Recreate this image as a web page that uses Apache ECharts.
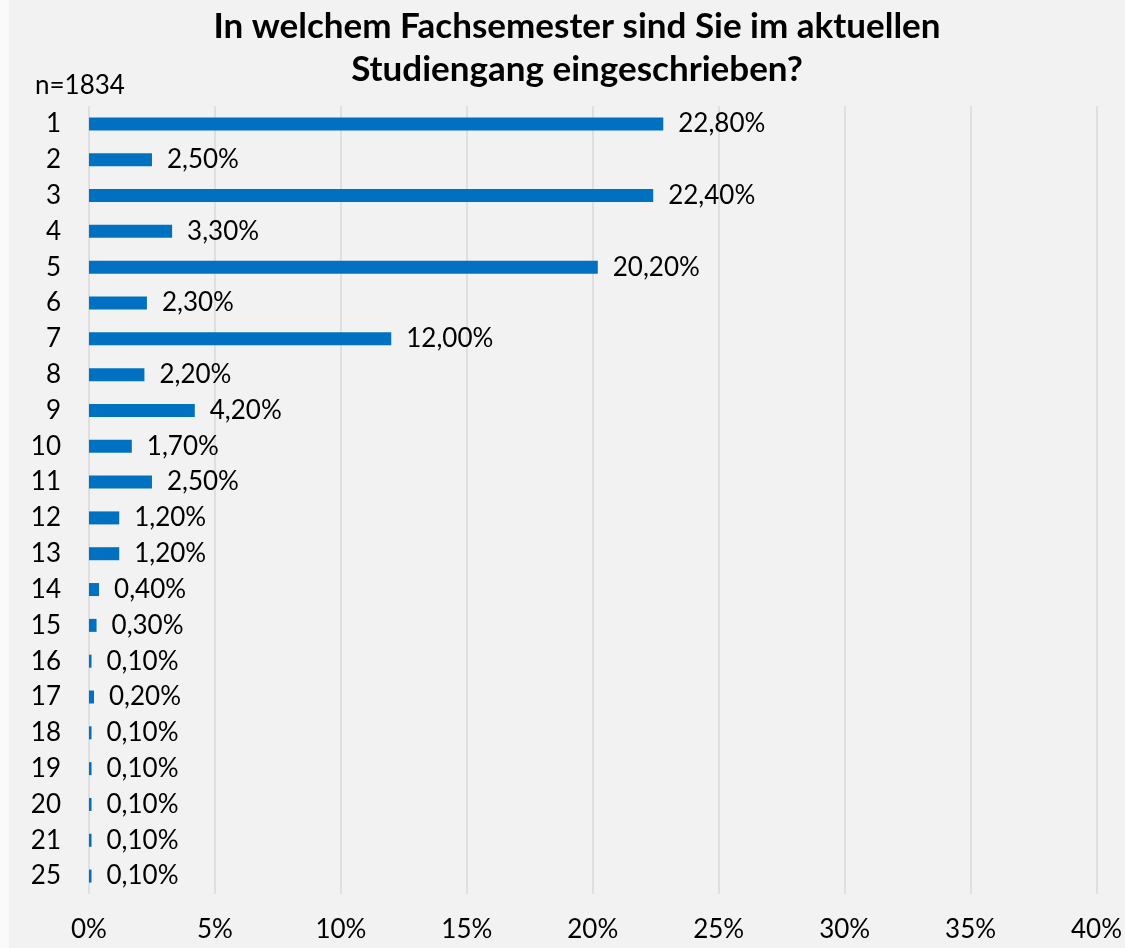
<!DOCTYPE html>
<html>
<head>
<meta charset="utf-8">
<script src="https://cdn.jsdelivr.net/npm/echarts@6/dist/echarts.min.js"></script>
<style>
html,body{margin:0;padding:0;background:#fff;}
#c{width:1125px;height:948px;}
</style>
</head>
<body>
<div id="c"></div>
<script>
const categories = ['1','2','3','4','5','6','7','8','9','10','11','12','13','14','15','16','17','18','19','20','21','25'];
const values = [22.8, 2.5, 22.4, 3.3, 20.2, 2.3, 12.0, 2.2, 4.2, 1.7, 2.5, 1.2, 1.2, 0.4, 0.3, 0.1, 0.2, 0.1, 0.1, 0.1, 0.1, 0.1];
const xTicks = [0, 5, 10, 15, 20, 25, 30, 35, 40];
const titleText = 'In welchem Fachsemester sind Sie im aktuellen\nStudiengang eingeschrieben?';
const sampleText = 'n=1834';

const FONT = 'Lato';
const chart = echarts.init(document.getElementById('c'));
chart.setOption({
  backgroundColor: '#f2f2f2',
  animation: false,
  graphic: [{type:'rect', left:0, top:0, shape:{width:9, height:948}, style:{fill:'#fafafa'}, silent:true}],
  title: [{
    text: titleText,
    left: 572,
    top: 0,
    textAlign: 'center',
    textStyle: {fontFamily: FONT, fontWeight: 'bold', fontSize: 35, lineHeight: 43, color: '#000'}
  }, {
    text: sampleText,
    left: 30,
    top: 68,
    textStyle: {fontFamily: FONT, fontWeight: 'normal', fontSize: 26, color: '#000'}
  }],
  grid: {left: 89, right: 26, top: 106, bottom: 54, containLabel: false},
  xAxis: {
    type: 'value',
    min: 0, max: 40, interval: 5,
    axisLine: {show: false},
    axisTick: {show: false},
    splitLine: {show: true, lineStyle: {color: '#d9d9d9', width: 1.5}},
    axisLabel: {
      margin: 23,
      fontFamily: FONT, fontSize: 26, color: '#000',
      formatter: v => xTicks.includes(v) ? v + '%' : ''
    }
  },
  yAxis: {
    type: 'category',
    data: categories,
    inverse: true,
    axisLine: {show: false},
    axisTick: {show: false},
    axisLabel: {margin: 28, fontFamily: FONT, fontSize: 26, color: '#000'}
  },
  series: [{
    type: 'bar',
    data: values,
    barWidth: 13,
    itemStyle: {color: '#0070c0'},
    label: {
      show: true,
      position: 'right',
      distance: 15,
      fontFamily: FONT, fontSize: 26, color: '#000',
      formatter: p => p.value.toFixed(2).replace('.', ',') + '%'
    }
  }]
});
</script>
</body>
</html>
